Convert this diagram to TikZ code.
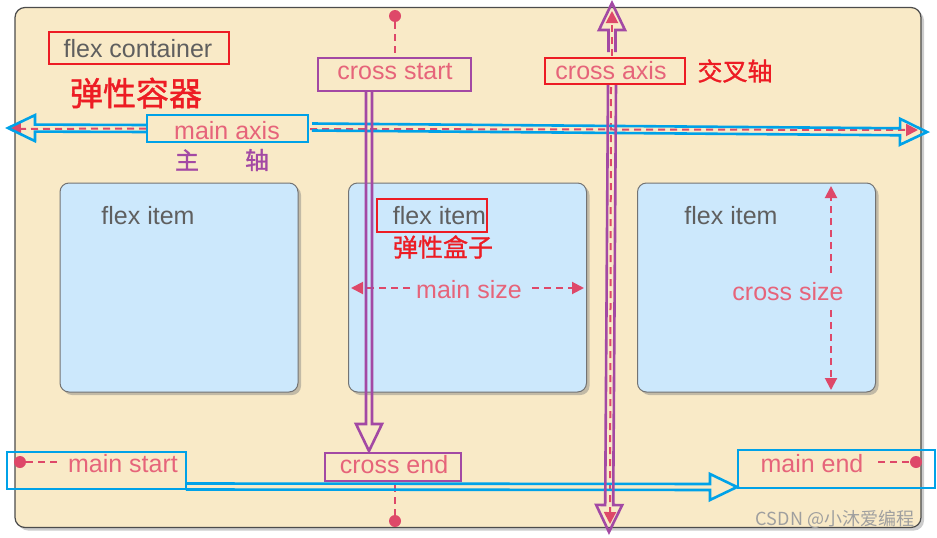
\documentclass[tikz,border=0pt]{standalone}
\usepackage{fontspec}
\setmainfont{Liberation Sans}
\newfontfamily\cjk{Noto Sans CJK SC}
\newfontfamily\cjkb[FakeBold=1.2]{Noto Sans CJK SC}
\usetikzlibrary{calc,arrows.meta,shadows}
\definecolor{cream}{RGB}{249,234,199}
\definecolor{itemblue}{RGB}{204,232,252}
\definecolor{pinkline}{RGB}{222,72,105}
\definecolor{pinktext}{RGB}{230,100,122}
\definecolor{graytext}{RGB}{95,95,95}
\definecolor{mred}{RGB}{237,28,36}
\definecolor{mblue}{RGB}{0,162,232}
\definecolor{mpurple}{RGB}{163,73,164}
\newcommand{\hollowarr}[4]{%
  \coordinate (hb) at ($(#3)!27pt!(#2)$);
  \draw[harr,#1] ($(#2)!#4!90:(#3)$) -- ($(hb)!#4!90:(#3)$) -- ($(hb)!13pt!90:(#3)$) -- (#3)
     -- ($(hb)!13pt!-90:(#3)$) -- ($(hb)!#4!-90:(#3)$) -- ($(#2)!#4!-90:(#3)$);
}
\begin{document}
\begin{tikzpicture}[x=1pt,y=-1pt,
  container/.style={draw=gray!60!black, line width=1.2pt, fill=cream, rounded corners=10pt,
    inner sep=0pt, drop shadow={shadow xshift=3pt,shadow yshift=-3pt,opacity=0.4}},
  itembox/.style={draw=gray!90!black, line width=1pt, fill=itemblue, rounded corners=9pt, inner sep=0pt,
    minimum width=238pt, minimum height=209pt,
    drop shadow={shadow xshift=3pt,shadow yshift=-3pt,opacity=0.45}},
  gtxt/.style={text=graytext, font=\fontsize{25}{28}\selectfont, inner sep=0pt},
  ptxt/.style={text=pinktext, font=\fontsize{25}{28}\selectfont, inner sep=0pt},
  ctxt/.style={inner sep=0pt},
  labbox/.style={draw, line width=2pt, inner sep=0pt},
  pdash/.style={draw=pinkline, line width=2pt, dash pattern=on 7pt off 5pt},
  ptip/.style={-{Triangle[length=12pt,width=12pt]}},
  dotn/.style={circle, fill=pinkline, inner sep=0pt, minimum size=12pt},
  harr/.style={line width=2.6pt, line join=miter},
]
\useasboundingbox (0,0) rectangle (937,538);

% container and items
\node[container, minimum width=906pt, minimum height=520pt] (cont) at (468,267.5) {};
\node[itembox] (i1) at (179,287.5) {};
\node[itembox] (i2) at (467.5,287.5) {};
\node[itembox] (i3) at (756.5,287.5) {};

% texts
\node[gtxt] (fct) at (138,49) {flex container};
\node[gtxt] (fi1) at (148,216) {flex item};
\node[gtxt] (fi2) at (439.5,216) {flex item};
\node[gtxt] (fi3) at (731,216) {flex item};
\node[ptxt] (mat) at (227,131) {main axis};
\node[ptxt] (cst) at (395,72) {cross start};
\node[ptxt] (cat) at (611,71) {cross axis};
\node[ptxt] (mst) at (469,290) {main size};
\node[ptxt] (cszt) at (788,292) {cross size};
\node[ptxt] (mstt) at (123,464) {main start};
\node[ptxt] (cet) at (394,465) {cross end};
\node[ptxt] (met) at (812,464) {main end};

% pink dots
\node[dotn] (csd) at (395,16) {};
\node[dotn] (ced) at (395,521) {};
\node[dotn] (msd) at (20,462) {};
\node[dotn] (med) at (916,462) {};

% label boxes
\node[labbox, draw=mred, minimum width=180pt, minimum height=32pt] (fcb) at (139,48) {};
\node[labbox, draw=mblue, minimum width=161pt, minimum height=27pt] (mab) at (227.5,128.5) {};
\node[labbox, draw=mpurple, minimum width=153pt, minimum height=33pt] (csb) at (394.5,74.5) {};
\node[labbox, draw=mred, minimum width=140pt, minimum height=26pt] (cab) at (615,71) {};
\node[labbox, draw=mred, minimum width=110pt, minimum height=33pt] (fib) at (432,215.5) {};
\node[labbox, draw=mblue, minimum width=179pt, minimum height=37pt] (msb) at (96.5,470.5) {};
\node[labbox, draw=mpurple, minimum width=136pt, minimum height=28pt] (ceb) at (393,467) {};
\node[labbox, draw=mblue, minimum width=197pt, minimum height=38pt] (meb) at (836.5,469) {};

% free ends
\coordinate (csdash) at (395,54);
\coordinate (cedash) at (395,485);
\coordinate (msdash) at (58,462);
\coordinate (medash) at (878,462);
\coordinate (maL) at (9,129);
\coordinate (maR) at (918,130);
\coordinate (maRs) at (310,129);
\coordinate (caT) at (612,11);
\coordinate (caTs) at (612,56);
\coordinate (caB) at (610,524);
\coordinate (caBs) at (611,87);
\coordinate (msL) at (351,288);
\coordinate (msLs) at (410,288);
\coordinate (msR) at (584,288);
\coordinate (msRs) at (532,288);
\coordinate (csT) at (831,186);
\coordinate (csTs) at (831,273);
\coordinate (csB) at (831,390);
\coordinate (csBs) at (831,310);

% pink dashed guides
\draw[pdash] (csd) -- (csdash);
\draw[pdash] (cedash) -- (ced);
\draw[pdash] (msd) -- (msdash);
\draw[pdash] (medash) -- (med);
\draw[pdash, ptip] (mab.west) -- (maL);
\draw[pdash, ptip] (maRs) -- (maR);
\draw[pdash, ptip] (caTs) -- (caT);
\draw[pdash, ptip] (caBs) -- (caB);
\draw[pdash, ptip] (msLs) -- (msL);
\draw[pdash, ptip] (msRs) -- (msR);
\draw[pdash, ptip] (csTs) -- (csT);
\draw[pdash, ptip] (csBs) -- (csB);

% hollow double arrows
\coordinate (bl1) at (8,128);
\coordinate (br0) at (312,127);
\coordinate (br1) at (927,132);
\coordinate (bb0) at (186,486.5);
\coordinate (bb1) at (737,487);
\coordinate (pc0) at (369,92);
\coordinate (pc1) at (369,451);
\coordinate (pu0) at (612,52);
\coordinate (pu1) at (612,3);
\coordinate (pd0) at (612,85);
\coordinate (pd1) at (609,532);
\hollowarr{mblue}{mab.west}{bl1}{3.5pt}
\hollowarr{mblue}{br0}{br1}{3.5pt}
\hollowarr{mblue}{bb0}{bb1}{3pt}
\hollowarr{mpurple}{pc0}{pc1}{3pt}
\hollowarr{mpurple}{pu0}{pu1}{3.5pt}
\hollowarr{mpurple}{pd0}{pd1}{4pt}

% Chinese annotations
\node[ctxt, text=mred, font=\cjkb\fontsize{33}{36}\selectfont] (cn1) at (136,93) {弹性容器};
\node[ctxt, text=mpurple, font=\cjkb\fontsize{24}{26}\selectfont] (zhu) at (187,160) {主};
\node[ctxt, text=mpurple, font=\cjkb\fontsize{24}{26}\selectfont] (zhou) at (257,160) {轴};
\node[ctxt, text=mred, font=\cjkb\fontsize{25}{28}\selectfont] (jcz) at (735,71) {交叉轴};
\node[ctxt, text=mred, font=\cjkb\fontsize{25}{28}\selectfont] (hz) at (443,247) {弹性盒子};
\node[ctxt, text=gray!75, font=\cjk\fontsize{18}{20}\selectfont] (wm) at (835,519) {CSDN @小沐爱编程};
\end{tikzpicture}
\end{document}
